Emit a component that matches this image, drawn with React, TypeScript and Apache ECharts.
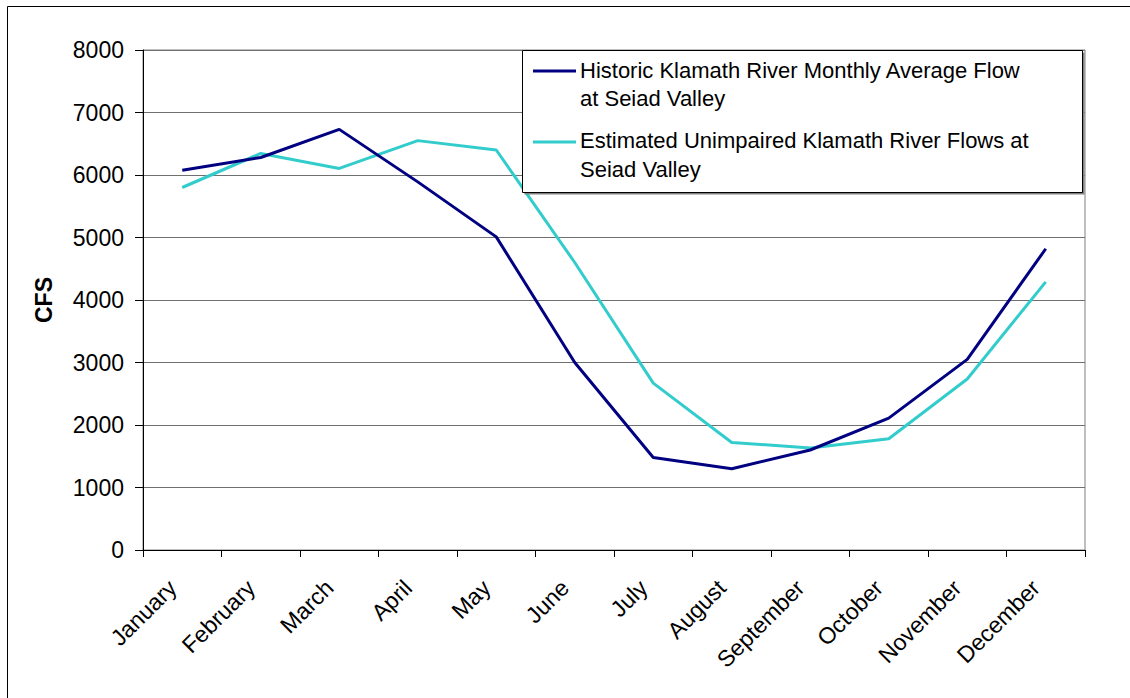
import React, { useEffect, useRef } from "react";
import * as echarts from "echarts";

const months = ["January", "February", "March", "April", "May", "June", "July", "August", "September", "October", "November", "December"];
const historicName = "Historic Klamath River Monthly Average Flow at Seiad Valley";
const estimatedName = "Estimated Unimpaired Klamath River Flows at Seiad Valley";
const historic = [6075, 6280, 6730, 5890, 5010, 3000, 1480, 1300, 1600, 2110, 3050, 4820];
const estimated = [5800, 6345, 6105, 6550, 6400, 4600, 2670, 1720, 1632, 1780, 2735, 4290];
const yTicks = { min: 0, max: 8000, interval: 1000 };

const FONT = "'Liberation Sans', Arial, sans-serif";
const NAVY = "#000080";
const CYAN = "#33CCCC";

export default function App() {
  const ref = useRef<HTMLDivElement>(null);
  useEffect(() => {
    if (!ref.current) return;
    const chart = echarts.init(ref.current, undefined, { renderer: "svg" });
    chart.setOption({
      animation: false,
      backgroundColor: "#ffffff",
      textStyle: { fontFamily: FONT },
      grid: { left: 143, right: 45, top: 50, bottom: 148, show: true, borderColor: "#808080", borderWidth: 1, backgroundColor: "transparent" },
      xAxis: {
        type: "category",
        data: months,
        boundaryGap: true,
        axisLine: { lineStyle: { color: "#000", width: 1 } },
        axisTick: { show: true, length: 7, lineStyle: { color: "#000" } },
        axisLabel: { rotate: 45, margin: 24, padding: [0, 14, 0, 0], fontSize: 23, color: "#000", fontFamily: FONT, interval: 0 },
        splitLine: { show: false },
      },
      yAxis: {
        type: "value",
        min: yTicks.min,
        max: yTicks.max,
        interval: yTicks.interval,
        name: "CFS",
        nameLocation: "middle",
        nameGap: 88,
        nameRotate: 90,
        nameTextStyle: { fontSize: 23, fontWeight: "bold", color: "#000", fontFamily: FONT },
        axisLine: { show: true, lineStyle: { color: "#000", width: 1 } },
        axisTick: { show: true, length: 8, lineStyle: { color: "#000" } },
        axisLabel: { fontSize: 23, color: "#000", margin: 19, fontFamily: FONT, formatter: (v: number) => String(v) },
        splitLine: { show: true, lineStyle: { color: "#707070", width: 1 } },
      },
      series: [
        {
          name: historicName,
          type: "line",
          data: historic,
          symbol: "none",
          lineStyle: { color: NAVY, width: 3 },
          itemStyle: { color: NAVY },
          z: 3,
        },
        {
          name: estimatedName,
          type: "line",
          data: estimated,
          symbol: "none",
          lineStyle: { color: CYAN, width: 3 },
          itemStyle: { color: CYAN },
          z: 2,
        },
      ],
      graphic: [
        { type: "rect", shape: { x: 7.5, y: 6.5, width: 1140, height: 710 }, style: { fill: "none", stroke: "#000", lineWidth: 1 }, silent: true },
        { type: "rect", shape: { x: 524.5, y: 52.5, width: 560, height: 142 }, style: { fill: "#808080" }, z: 9 },
        { type: "rect", shape: { x: 522.5, y: 50.5, width: 560, height: 142 }, style: { fill: "#fff", stroke: "#000", lineWidth: 1 }, z: 10 },
        { type: "line", shape: { x1: 533, y1: 71, x2: 576, y2: 71 }, style: { stroke: NAVY, lineWidth: 3 }, z: 11 },
        { type: "text", x: 580, y: 70, style: { text: "Historic Klamath River Monthly Average Flow", font: `22px ${FONT}`, fill: "#000", verticalAlign: "middle" }, z: 11 },
        { type: "text", x: 580, y: 98, style: { text: "at Seiad Valley", font: `22px ${FONT}`, fill: "#000", verticalAlign: "middle" }, z: 11 },
        { type: "line", shape: { x1: 533, y1: 142, x2: 576, y2: 142 }, style: { stroke: CYAN, lineWidth: 3 }, z: 11 },
        { type: "text", x: 580, y: 140, style: { text: "Estimated Unimpaired Klamath River Flows at", font: `22px ${FONT}`, fill: "#000", verticalAlign: "middle" }, z: 11 },
        { type: "text", x: 580, y: 169, style: { text: "Seiad Valley", font: `22px ${FONT}`, fill: "#000", verticalAlign: "middle" }, z: 11 },
      ],
    });
    return () => chart.dispose();
  }, []);
  return <div ref={ref} style={{ position: "fixed", left: 0, top: 0, width: 1130, height: 698 }} />;
}
